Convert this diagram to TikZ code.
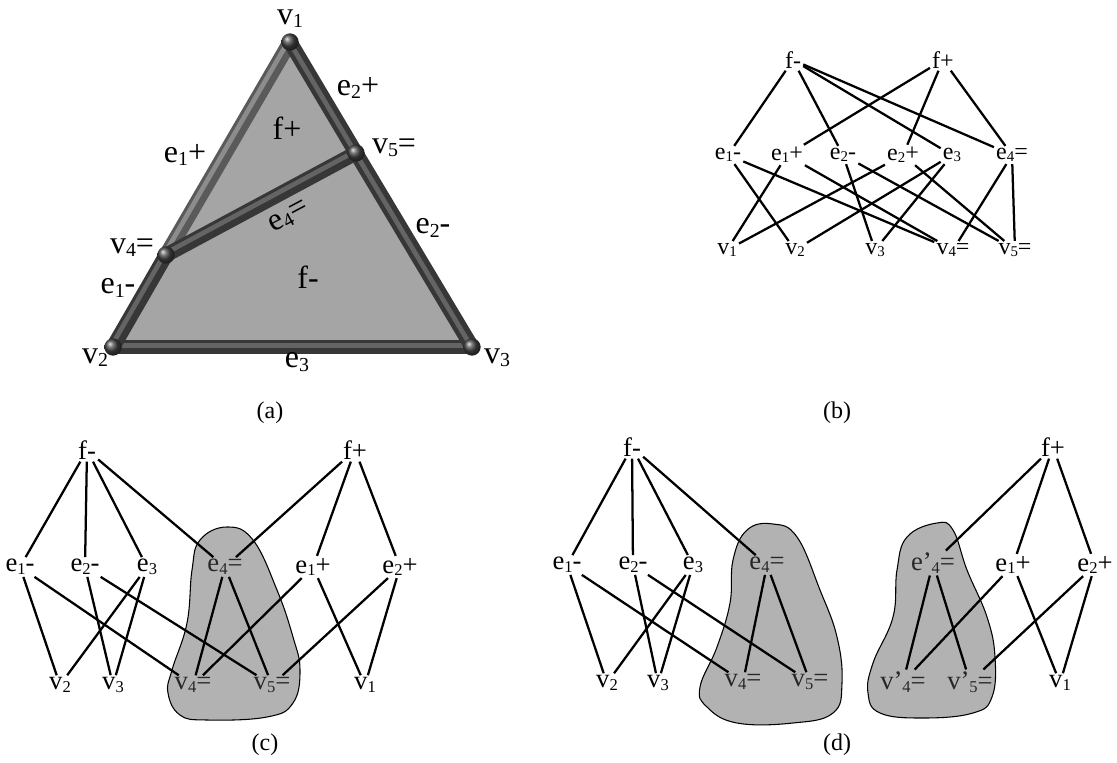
\documentclass[tikz,border=0pt]{standalone}
\usepackage{fontspec}
\setmainfont{Liberation Serif}
\usepackage{graphicx}
\newcommand\ix[1]{\raisebox{-0.1em}{\scalebox{0.62}{#1}}}
\definecolor{blobgray}{RGB}{178,178,178}
\definecolor{facegray}{RGB}{165,165,165}
\definecolor{tubedark}{RGB}{55,55,55}
\definecolor{tubelight}{RGB}{100,100,100}
\definecolor{tubemid}{RGB}{90,90,90}
\definecolor{tubemidlight}{RGB}{140,140,140}
\tikzset{
 lab/.style={inner sep=1.5pt, font=\fontsize{20}{21}\selectfont},
 blab/.style={inner sep=1.5pt, font=\fontsize{18}{19}\selectfont},
 tlab/.style={inner sep=0pt, font=\fontsize{24}{25}\selectfont},
 captxt/.style={inner sep=0pt, font=\fontsize{18}{20}\selectfont},
 ln/.style={line width=1.7pt},
 blob/.style={fill=blobgray, draw=black, line width=0.8pt},
 inblob/.style={text=black!85},
 tube/.style={line width=11pt, draw=tubedark, line cap=round},
 hl/.style={line width=3.5pt, draw=tubelight, line cap=round, transform canvas={xshift=-1pt,yshift=1pt}},
 tubeL/.style={line width=11pt, draw=tubemid, line cap=round},
 hlL/.style={line width=3.5pt, draw=tubemidlight, line cap=round, transform canvas={xshift=-1pt,yshift=1pt}},
 ball/.style={ball color=gray!55!black},
}
\begin{document}
\begin{tikzpicture}[x=0.75pt,y=-0.75pt]
\useasboundingbox (0,0) rectangle (1117,763);

% ---------------- (a) ----------------
\coordinate (v1) at (290,42);
\coordinate (v2) at (113,347);
\coordinate (v3) at (472,347);
\coordinate (v4) at (166,255);
\coordinate (v5) at (356,153);
\fill[facegray] (v1) -- (v2) -- (v3) -- cycle;
\draw[tube] (v2) -- (v3);
\draw[hl] (v2) -- (v3);
\draw[tube] (v2) -- (v4);
\draw[hl] (v2) -- (v4);
\draw[tubeL] (v4) -- (v1);
\draw[hlL] (v4) -- (v1);
\draw[tube] (v1) -- (v5);
\draw[hl] (v1) -- (v5);
\draw[tube] (v5) -- (v3);
\draw[hl] (v5) -- (v3);
\draw[tube] (v4) -- (v5);
\draw[hl] (v4) -- (v5);
\foreach \p in {v1,v2,v3,v4,v5} \shade[ball] (\p) circle (6.5pt);

\node[tlab] (av1) at (290,19) {v\ix{1}};
\node[tlab] (ae2p) at (358,88) {e\ix{2}+};
\node[tlab] (afp) at (287,128) {f+};
\node[tlab] (av5) at (394,148) {v\ix{5}=};
\node[tlab] (ae1p) at (185,155) {e\ix{1}+};
\node[tlab, rotate=28] (ae4) at (289,217) {e\ix{4}=};
\node[tlab] (ae2m) at (433,228) {e\ix{2}-};
\node[tlab] (av4) at (132,248) {v\ix{4}=};
\node[tlab] (afm) at (308,277) {f-};
\node[tlab] (ae1m) at (118,288) {e\ix{1}-};
\node[tlab] (av2) at (95,358) {v\ix{2}};
\node[tlab] (ae3) at (297,362) {e\ix{3}};
\node[tlab] (av3) at (497,358) {v\ix{3}};
\node[captxt] (capa) at (270,413) {(a)};

% ---------------- (b) ----------------
\node[blab] (bfm) at (793,60) {f-};
\node[blab] (bfp) at (943,60) {f+};
\node[blab] (be1m) at (728,155) {e\ix{1}-};
\node[blab] (be1p) at (787,155) {e\ix{1}+};
\node[blab] (be2m) at (843,155) {e\ix{2}-};
\node[blab] (be2p) at (903,155) {e\ix{2}+};
\node[blab] (be3) at (952,155) {e\ix{3}};
\node[blab] (be4) at (1012,155) {e\ix{4}=};
\node[blab] (bv1) at (727,250) {v\ix{1}};
\node[blab] (bv2) at (795,250) {v\ix{2}};
\node[blab] (bv3) at (875,250) {v\ix{3}};
\node[blab] (bv4) at (953,250) {v\ix{4}=};
\node[blab] (bv5) at (1015,250) {v\ix{5}=};
\foreach \a/\b in {bfm/be1m,bfm/be2m,bfm/be3,bfm/be4,bfp/be1p,bfp/be2p,bfp/be4,
  be1m/bv2,be1m/bv4,be1p/bv1,be1p/bv4,be2m/bv3,be2m/bv5,be2p/bv1,be2p/bv5,
  be3/bv2,be3/bv3,be4/bv4,be4/bv5}
  \draw[ln] (\a) -- (\b);
\node[captxt] (capb) at (837,413) {(b)};

% ---------------- (c) ----------------
\path[blob] plot[smooth cycle, tension=0.7] coordinates {(227,527) (253,540) (277,590) (293,637) (300,670) (293,703) (267,717) (207,720) (180,715) (168,693) (172,670) (187,623) (192,570) (200,540)};
\node[lab] (cfm) at (87,450) {f-};
\node[lab] (cfp) at (355,450) {f+};
\node[lab] (ce1m) at (20,567) {e\ix{1}-};
\node[lab] (ce2m) at (85,567) {e\ix{2}-};
\node[lab] (ce3) at (147,567) {e\ix{3}};
\node[lab, inblob] (ce4) at (225,567) {e\ix{4}=};
\node[lab] (ce1p) at (313,567) {e\ix{1}+};
\node[lab] (ce2p) at (400,567) {e\ix{2}+};
\node[lab] (cv2) at (60,685) {v\ix{2}};
\node[lab] (cv3) at (113,685) {v\ix{3}};
\node[lab, inblob] (cv4) at (193,685) {v\ix{4}=};
\node[lab, inblob] (cv5) at (272,685) {v\ix{5}=};
\node[lab] (cv1) at (365,685) {v\ix{1}};
\foreach \a/\b in {cfm/ce1m,cfm/ce2m,cfm/ce3,cfm/ce4,cfp/ce4,cfp/ce1p,cfp/ce2p,
  ce1m/cv2,ce1m/cv4,ce2m/cv3,ce2m/cv5,ce3/cv2,ce3/cv3,ce4/cv4,ce4/cv5,
  ce1p/cv4,ce1p/cv1,ce2p/cv5,ce2p/cv1}
  \draw[ln] (\a) -- (\b);
\node[captxt] (capc) at (265,745) {(c)};

% ---------------- (d) ----------------
\path[blob] plot[smooth cycle, tension=0.7] coordinates {(773,524) (797,537) (820,590) (837,637) (842,683) (833,713) (793,723) (737,723) (707,707) (700,687) (717,647) (730,603) (733,560) (747,530)};
\path[blob] plot[smooth cycle, tension=0.7] coordinates {(937,523) (953,530) (967,570) (987,617) (995,657) (992,697) (973,713) (923,718) (880,713) (868,693) (873,663) (893,617) (897,570) (907,537)};
\node[lab] (dfm) at (632,447) {f-};
\node[lab] (dfp) at (1053,447) {f+};
\node[lab] (de1m) at (567,565) {e\ix{1}-};
\node[lab] (de2m) at (633,565) {e\ix{2}-};
\node[lab] (de3) at (693,565) {e\ix{3}};
\node[lab, inblob] (de4) at (767,565) {e\ix{4}=};
\node[lab] (dv2) at (607,683) {v\ix{2}};
\node[lab] (dv3) at (658,683) {v\ix{3}};
\node[lab, inblob] (dv4) at (743,682) {v\ix{4}=};
\node[lab, inblob] (dv5) at (810,682) {v\ix{5}=};
\node[lab, inblob] (de4p) at (933,563) {e'\ix{4}=};
\node[lab] (de1p) at (1013,565) {e\ix{1}+};
\node[lab] (de2p) at (1095,565) {e\ix{2}+};
\node[lab, inblob] (dv4p) at (903,682) {v'\ix{4}=};
\node[lab, inblob] (dv5p) at (970,682) {v'\ix{5}=};
\node[lab] (dv1) at (1060,683) {v\ix{1}};
\foreach \a/\b in {dfm/de1m,dfm/de2m,dfm/de3,dfm/de4,
  de1m/dv2,de1m/dv4,de2m/dv3,de2m/dv5,de3/dv2,de3/dv3,de4/dv4,de4/dv5,
  dfp/de4p,dfp/de1p,dfp/de2p,de4p/dv4p,de4p/dv5p,de1p/dv4p,de1p/dv1,de2p/dv5p,de2p/dv1}
  \draw[ln] (\a) -- (\b);
\node[captxt] (capd) at (837,745) {(d)};
\end{tikzpicture}
\end{document}
